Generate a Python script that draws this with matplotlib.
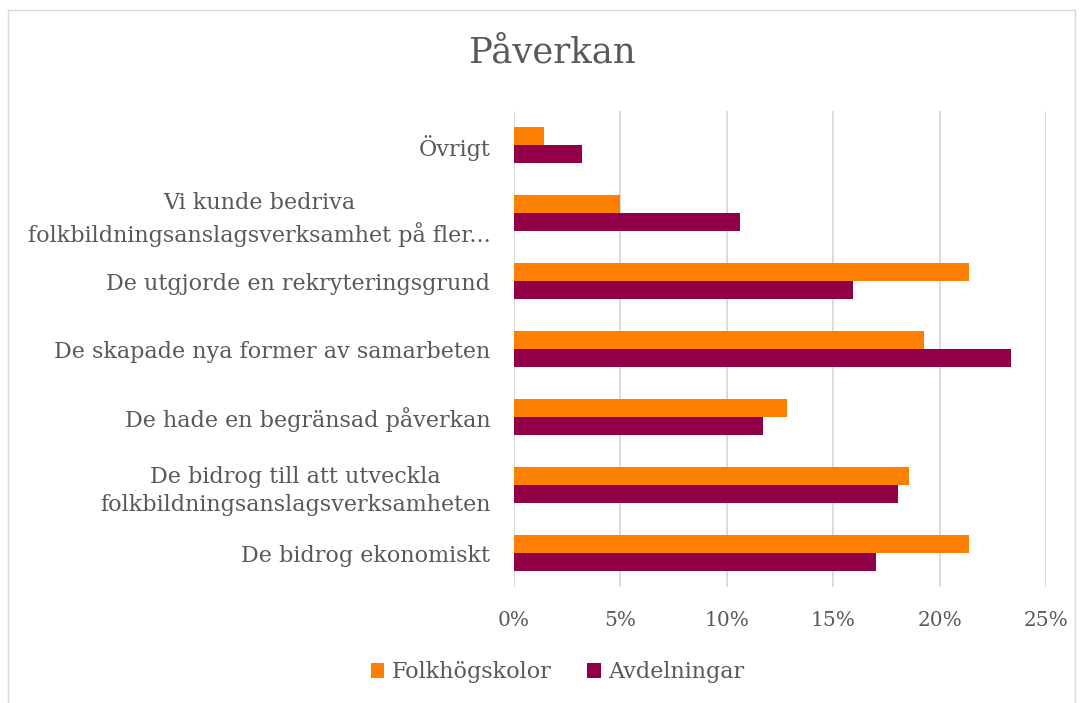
import matplotlib.pyplot as plt
from matplotlib.patches import Rectangle
import numpy as np

# Kategorier (nedifrån och upp, som i Excel-diagrammet)
categories = [
    'De bidrog ekonomiskt',
    'De bidrog till att utveckla\nfolkbildningsanslagsverksamheten',
    'De hade en begränsad påverkan',
    'De skapade nya former av samarbeten',
    'De utgjorde en rekryteringsgrund',
    'Vi kunde bedriva\nfolkbildningsanslagsverksamhet på fler...',
    'Övrigt',
]
folkhogskolor = [21.4, 18.55, 12.84, 19.27, 21.4, 4.99, 1.40]
avdelningar = [17.0, 18.06, 11.69, 23.36, 15.93, 10.63, 3.19]
xticks = [0, 5, 10, 15, 20, 25]

orange = '#FF8000'
purple = '#910046'
text_gray = '#595959'

plt.rcParams['font.family'] = ['DejaVu Serif']

fig = plt.figure(figsize=(10.83, 7.03), dpi=100)
ax = fig.add_axes([0.4746, 0.165, 0.4912, 0.677])

y = np.arange(len(categories))
h = 0.265
ax.barh(y + h / 2, folkhogskolor, height=h, color=orange, label='Folkhögskolor', zorder=3)
ax.barh(y - h / 2, avdelningar, height=h, color=purple, label='Avdelningar', zorder=3)

ax.set_xlim(0, 25)
ax.set_ylim(-0.5, len(categories) - 0.5)
ax.set_xticks(xticks)
ax.set_xticklabels([f'{t}%' for t in xticks])
ax.set_yticks(y)
ax.set_yticklabels(categories)
ax.tick_params(axis='y', length=0, pad=17, labelsize=16, labelcolor=text_gray)
ax.tick_params(axis='x', length=0, pad=17, labelsize=14.5, labelcolor=text_gray)
for lbl in ax.get_yticklabels():
    lbl.set_multialignment('center')
    lbl.set_linespacing(1.4)

ax.grid(axis='x', color='#d9d9d9', linewidth=1.3, zorder=0)
for s in ax.spines.values():
    s.set_visible(False)

fig.text(0.51, 0.926, 'Påverkan', ha='center', va='center', fontsize=25.5, color=text_gray)

handles, labels = ax.get_legend_handles_labels()
fig.legend(handles, labels, loc='center', bbox_to_anchor=(0.515, 0.044), ncol=2, frameon=False,
           fontsize=16, labelcolor=text_gray, handlelength=0.6, handleheight=0.65,
           handletextpad=0.35, columnspacing=1.6)

fig.patches.append(Rectangle((8 / 1083, -0.05), (1075 - 8) / 1083, 1.05 - 10 / 703,
                             transform=fig.transFigure, fill=False, edgecolor='#d9d9d9',
                             linewidth=1.0))

fig.savefig('out.png', dpi=100, facecolor='white')
